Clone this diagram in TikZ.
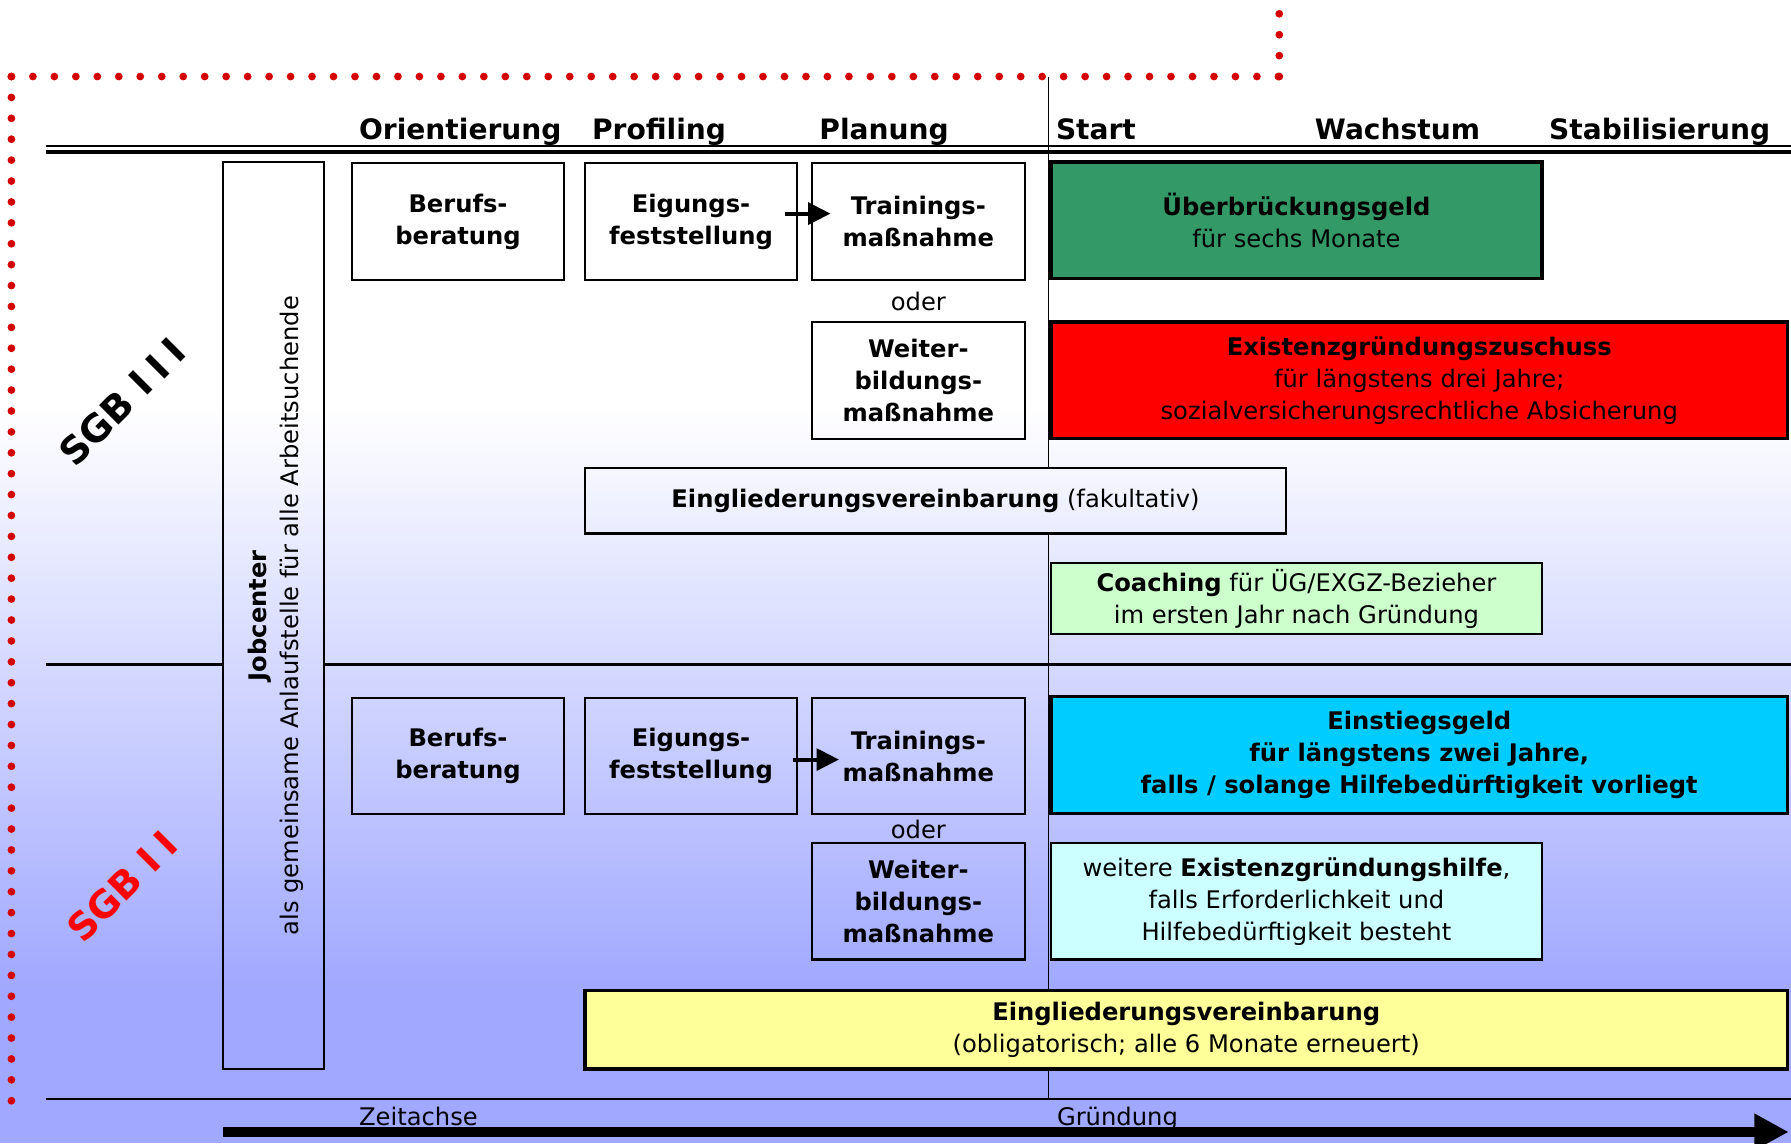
\documentclass[tikz,border=0pt]{standalone}
\usepackage{fontspec}
\setmainfont{DejaVu Sans}
\usepackage{tikz}
\usetikzlibrary{
  arrows.meta
}
\definecolor{ugreen}{RGB}{51,153,102}
\definecolor{exred}{RGB}{255,0,0}
\definecolor{escyan}{RGB}{0,204,255}
\definecolor{coachgreen}{RGB}{204,255,204}
\definecolor{helpcyan}{RGB}{204,255,255}
\definecolor{evyellow}{RGB}{255,255,153}
\definecolor{bgblue}{RGB}{160,168,255}
\definecolor{dotred}{RGB}{210,0,0}
\newcommand{\boxfont}{\fontsize{10.6}{14}\selectfont}
\newcommand{\phasefont}{\fontsize{12.3}{15}\selectfont\bfseries}
\newcommand{\lawfont}{\fontsize{16.5}{20}\selectfont\bfseries}

\begin{document}
\begin{tikzpicture}[
      x=0.5pt, y=-0.5pt,
      measure/.style={
         rectangle,
         draw=black,
         line width=0.9pt,
         minimum width=93pt,
         minimum height=51pt,
         inner sep=0pt,
         align=center,
         font=\boxfont\bfseries
      },
      benefit/.style={
         rectangle,
         draw=black,
         line width=1.5pt,
         minimum height=51pt,
         inner sep=0pt,
         align=center,
         font=\boxfont
      },
      infobox/.style={
         rectangle,
         draw=black,
         line width=1pt,
         inner sep=0pt,
         align=center,
         font=\boxfont
      },
      phase/.style={anchor=base,inner sep=0pt,font=\phasefont},
      axislabel/.style={anchor=base west,inner sep=0pt,font=\boxfont},
      orlabel/.style={inner sep=0pt,font=\boxfont},
      jobtext/.style={rotate=90,align=center,inner sep=0pt,font=\boxfont},
      lawlabel/.style={rotate=45,inner sep=0pt,font=\lawfont},
      dotted border/.style={draw=dotred,line width=3.4pt,line cap=round,
         dash pattern=on 0pt off #1},
      tip/.style={-{Triangle[length=9.8pt,width=9.5pt]},line width=1.75pt},
      timeline/.style={-{Triangle[length=15pt,width=15pt]},line width=4.6pt}
    ]
    \useasboundingbox (0,0) rectangle (1568,1001);
    % background
    \fill[white] (0,0) rectangle (1568,357);
    \fill[top color=white,bottom color=bgblue] (0,356) rectangle (1568,868);
    \fill[bgblue] (0,867) rectangle (1568,1001);

    % red frame
    \draw[dotted border=9.15pt] (10,67) -- (10,964);
    \draw[dotted border=9.4pt] (10,67) -- (1120,67);
    \draw[dotted border=9.15pt] (1120,67) -- (1120,11);

    % axis lines
    \draw[line width=0.9pt] (40,128) -- (1568,128);
    \draw[line width=1.5pt] (40,133) -- (1568,133);
    \draw[line width=0.8pt] (918,67) -- (918,962);
    \draw[line width=0.9pt] (40,962) -- (1568,962);

    % phases
    \node[phase] (orient) at (403,122) {Orientierung};
    \node[phase] (profil) at (577,122) {Profiling};
    \node[phase] (planung) at (774,122) {Planung};
    \node[phase] (start) at (959.5,122) {Start};
    \node[phase] (wachstum) at (1223.5,122) {Wachstum};
    \node[phase] (stabil) at (1453,122) {Stabilisierung};

    % Jobcenter
    \node[measure, minimum width=44.5pt, minimum height=397pt] (jobc) at (239.5,539) {};
    \node[jobtext] (jobctext) at ([xshift=1pt]jobc.center)
       {\textbf{Jobcenter}\\als gemeinsame Anlaufstelle für alle Arbeitsuchende};
    \coordinate (sepL) at (40,582);
    \coordinate (sepR) at (1568,582);
    \draw[line width=1.5pt] (sepL) -- (sepL -| jobc.west);
    \draw[line width=1.5pt] (jobc.east |- sepR) -- (sepR);

    % SGB III
    \node[lawlabel] (sgb3) at (107,352) {SGB I\kern.25em I\kern.25em I};
    \node[measure] (beruf1) at (401,194) {Berufs-\\beratung};
    \node[measure] (eign1) at (605,194) {Eigungs-\\feststellung};
    \node[measure] (train1) at (804,194) {Trainings-\\maßnahme};
    \node[orlabel] (oder1) at (804,264) {oder};
    \node[measure] (weiter1) at (804,333) {Weiter-\\bildungs-\\maßnahme};
    \node[benefit, fill=ugreen, minimum width=215pt] (ueg) at (1135,193)
       {\textbf{Überbrückungsgeld}\\für sechs Monate};
    \node[benefit, fill=exred, minimum width=322.5pt] (exgz) at (1242.5,333)
       {\textbf{Existenzgründungszuschuss}\\für längstens drei Jahre;\\sozialversicherungsrechtliche Absicherung};
    \node[infobox, top color=bgblue!10, bottom color=bgblue!22,
       minimum width=307pt, minimum height=28.5pt] (evfak) at (819,438.5)
       {\textbf{Eingliederungsvereinbarung} (fakultativ)};
    \node[infobox, fill=coachgreen, minimum width=215pt, minimum height=31pt] (coach) at (1135,524)
       {\textbf{Coaching} für ÜG/EXGZ-Bezieher\\im ersten Jahr nach Gründung};
    \draw[tip] ([xshift=-6pt,yshift=3.5pt]eign1.east) -- ([xshift=8.5pt,yshift=3.5pt]train1.west);

    % SGB II
    \node[lawlabel, text=red] (sgb2) at (107,776) {SGB I\kern.25em I};
    \node[measure] (beruf2) at (401,662) {Berufs-\\beratung};
    \node[measure] (eign2) at (605,662) {Eigungs-\\feststellung};
    \node[measure] (train2) at (804,662) {Trainings-\\maßnahme};
    \node[orlabel] (oder2) at (804,726) {oder};
    \node[measure] (weiter2) at (804,789) {Weiter-\\bildungs-\\maßnahme};
    \node[benefit, fill=escyan, minimum width=322.5pt, font=\boxfont\bfseries] (esg) at (1242.5,661)
       {Einstiegsgeld\\für längstens zwei Jahre,\\falls / solange Hilfebedürftigkeit vorliegt};
    \node[infobox, fill=helpcyan, minimum width=215pt, minimum height=51pt] (weitere) at (1135,789)
       {weitere \textbf{Existenzgründungshilfe},\\falls Erforderlichkeit und\\Hilfebedürftigkeit besteht};
    \node[benefit, fill=evyellow, minimum width=526.5pt, minimum height=34.5pt] (evobl) at (1038.5,901.5)
       {\textbf{Eingliederungsvereinbarung}\\(obligatorisch; alle 6 Monate erneuert)};
    \draw[tip] ([xshift=-2.5pt,yshift=-1.5pt]eign2.east) -- ([xshift=12.2pt,yshift=-1.5pt]train2.west);

    % time axis
    \coordinate (tstart) at (195,991);
    \coordinate (tend) at (1566,991);
    \draw[timeline] (tstart) -- (tend);
    \node[axislabel] (zeit) at (314,985) {Zeitachse};
    \node[axislabel] (gruend) at (925,985) {Gründung};
\end{tikzpicture}
\end{document}
